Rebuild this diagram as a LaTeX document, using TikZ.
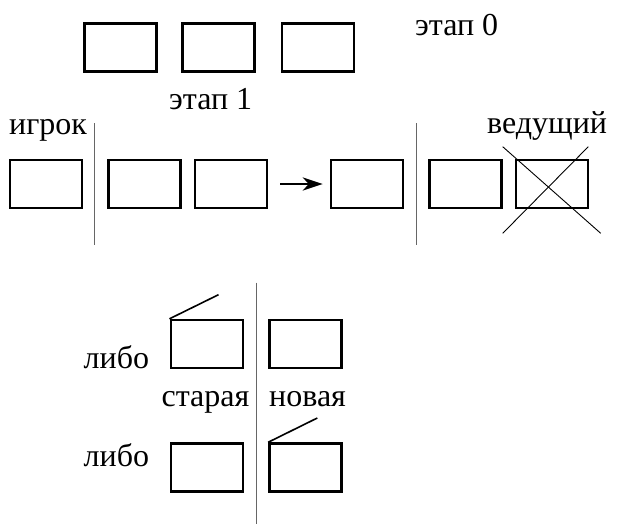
\documentclass[tikz,border=0pt]{standalone}
\usepackage{fontspec}
\setmainfont{Liberation Serif}
\usetikzlibrary{arrows.meta}
\begin{document}
\begin{tikzpicture}[x=1pt,y=-1pt,
  cell/.style={draw,line width=2.4pt,minimum width=72pt,minimum height=48pt,inner sep=0pt},
  lbl/.style={anchor=base west,inner sep=0pt,font=\fontsize{32}{37}\selectfont},
  sep/.style={line width=1pt,draw=black!60},
  thin/.style={line width=0.9pt}]
\useasboundingbox (0,0) rectangle (617,524);
% stage 0
\node[cell] (t1) at (120.5,47.7) {};
\node[cell] (t2) at (218.3,47.7) {};
\node[cell] (t3) at (318,47.7) {};
\node[lbl] (s0) at (415,36) {этап 0};
% stage 1
\node[lbl] (s1) at (169,110) {этап 1};
\node[lbl] (pl) at (9,134) {игрок};
\node[lbl] (hd) at (487,133) {ведущий};
\node[cell] (a) at (46,184) {};
\node[cell] (b) at (144.5,184) {};
\node[cell] (c) at (231,184) {};
\node[cell] (d) at (367,184) {};
\node[cell] (e) at (465.5,184) {};
\node[cell] (f) at (551.7,184) {};
\draw[line width=2.8pt,-{Stealth[length=20pt,width=13pt,inset=6pt]},shorten <=12pt,shorten >=7pt] (c.east) -- (d.west);
\coordinate (v1a) at (94.5,123); \coordinate (v1b) at (94.5,245);
\coordinate (v2a) at (416.5,123); \coordinate (v2b) at (416.5,245);
\draw[sep] (v1a) -- (v1b);
\draw[sep] (v2a) -- (v2b);
\coordinate (x1a) at (502.7,146.7); \coordinate (x1b) at (600.7,233.3);
\coordinate (x2a) at (588.3,146.7); \coordinate (x2b) at (502.7,233.3);
\draw[thin] (x1a) -- (x1b);
\draw[thin] (x2a) -- (x2b);
% bottom
\coordinate (v3a) at (256,282.7); \coordinate (v3b) at (256,524);
\draw[sep] (v3a) -- (v3b);
\node[cell] (g) at (206.7,344) {};
\node[cell] (h) at (305.3,344) {};
\node[cell] (i) at (206.7,467.5) {};
\node[cell] (j) at (305.3,467.5) {};
\coordinate (gs) at (218.5,294.7);
\coordinate (js) at (317.3,418);
\draw[line width=1.6pt] (g.north west) -- (gs);
\draw[line width=1.6pt] (j.north west) -- (js);
\node[lbl] (l1) at (83.5,368.3) {либо};
\node[lbl] (l2) at (83.5,466.7) {либо};
\node[lbl] (old) at (161.4,406.7) {старая};
\node[lbl] (new) at (269,406.7) {новая};
\end{tikzpicture}
\end{document}
